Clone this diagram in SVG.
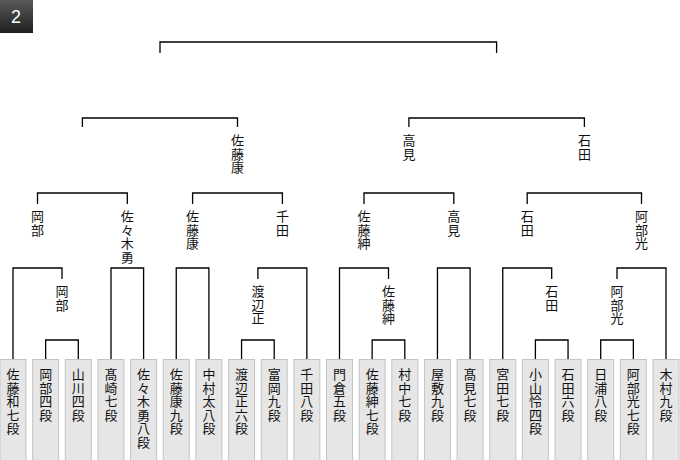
<svg xmlns="http://www.w3.org/2000/svg" width="680" height="460" viewBox="0 0 680 460">
<style>
.b{fill:#e6e6e6;stroke:#c4c4c4;stroke-width:1}
.l{fill:none;stroke:#000;stroke-width:1.3}
text{font-family:"Noto Sans CJK JP","Noto Sans",sans-serif;font-size:13px;fill:#111;text-anchor:middle}
</style>
<defs><linearGradient id="g" x1="0" y1="0" x2="0" y2="1"><stop offset="0" stop-color="#5a5a5a"/><stop offset="1" stop-color="#1e1e1e"/></linearGradient></defs>
<rect width="680" height="460" fill="#fff"/>
<g id="badge"><rect x="0" y="0" width="33" height="33" fill="url(#g)"/><text x="16" y="23" style="fill:#fff;font-family:'Liberation Sans',sans-serif;font-size:18px">2</text></g>
<g id="connectors" class="l">
<path class="l" d="M160,53V42H496.6V53"/>
<path class="l" d="M82.4,127V118H237.5V127M408.9,127V118H584.4V127"/>
<path class="l" d="M37.5,204V193H127.3V204M192.6,204V193H282.4V204M364,204V193H453.8V204M527.2,204V193H641.5V204"/>
<path class="l" d="M13,359V268H62V279M111,359V268H143.6V359M176.25,359V268H208.9V359M257.9,279V268H306.85V359M339.5,359V268H388.5V279M437.45,359V268H470.1V359M502.75,359V268H551.7V279M617,279V268H666V359"/>
<path class="l" d="M45.65,359V340H78.3V359M241.55,359V340H274.2V359M372.15,359V340H404.8V359M535.4,359V340H568.05V359M600.7,359V340H633.35V359"/>
</g>
<g id="winners">
<text y="145"><tspan x="237.5">佐</tspan><tspan x="237.5" dy="13.5">藤</tspan><tspan x="237.5" dy="13.5">康</tspan></text>
<text y="145"><tspan x="408.9">高</tspan><tspan x="408.9" dy="13.5">見</tspan></text>
<text y="145"><tspan x="584.4">石</tspan><tspan x="584.4" dy="13.5">田</tspan></text>
<text y="221"><tspan x="37.5">岡</tspan><tspan x="37.5" dy="13.5">部</tspan></text>
<text y="221"><tspan x="127.3">佐</tspan><tspan x="127.3" dy="13.5">々</tspan><tspan x="127.3" dy="13.5">木</tspan><tspan x="127.3" dy="13.5">勇</tspan></text>
<text y="221"><tspan x="192.6">佐</tspan><tspan x="192.6" dy="13.5">藤</tspan><tspan x="192.6" dy="13.5">康</tspan></text>
<text y="221"><tspan x="282.4">千</tspan><tspan x="282.4" dy="13.5">田</tspan></text>
<text y="221"><tspan x="364">佐</tspan><tspan x="364" dy="13.5">藤</tspan><tspan x="364" dy="13.5">紳</tspan></text>
<text y="221"><tspan x="453.8">高</tspan><tspan x="453.8" dy="13.5">見</tspan></text>
<text y="221"><tspan x="527.2">石</tspan><tspan x="527.2" dy="13.5">田</tspan></text>
<text y="221"><tspan x="641.5">阿</tspan><tspan x="641.5" dy="13.5">部</tspan><tspan x="641.5" dy="13.5">光</tspan></text>
<text y="296"><tspan x="62">岡</tspan><tspan x="62" dy="13.5">部</tspan></text>
<text y="296"><tspan x="257.9">渡</tspan><tspan x="257.9" dy="13.5">辺</tspan><tspan x="257.9" dy="13.5">正</tspan></text>
<text y="296"><tspan x="388.5">佐</tspan><tspan x="388.5" dy="13.5">藤</tspan><tspan x="388.5" dy="13.5">紳</tspan></text>
<text y="296"><tspan x="551.7">石</tspan><tspan x="551.7" dy="13.5">田</tspan></text>
<text y="296"><tspan x="617">阿</tspan><tspan x="617" dy="13.5">部</tspan><tspan x="617" dy="13.5">光</tspan></text>
</g>
<g id="players">
<g id="p0"><rect class="b" x="0" y="359.5" width="26" height="101"/><text y="379"><tspan x="13">佐</tspan><tspan x="13" dy="13.5">藤</tspan><tspan x="13" dy="13.5">和</tspan><tspan x="13" dy="13.5">七</tspan><tspan x="13" dy="13.5">段</tspan></text></g>
<g id="p1"><rect class="b" x="32.65" y="359.5" width="26" height="101"/><text y="379"><tspan x="45.65">岡</tspan><tspan x="45.65" dy="13.5">部</tspan><tspan x="45.65" dy="13.5">四</tspan><tspan x="45.65" dy="13.5">段</tspan></text></g>
<g id="p2"><rect class="b" x="65.3" y="359.5" width="26" height="101"/><text y="379"><tspan x="78.3">山</tspan><tspan x="78.3" dy="13.5">川</tspan><tspan x="78.3" dy="13.5">四</tspan><tspan x="78.3" dy="13.5">段</tspan></text></g>
<g id="p3"><rect class="b" x="97.95" y="359.5" width="26" height="101"/><text y="379"><tspan x="110.95">髙</tspan><tspan x="110.95" dy="13.5">崎</tspan><tspan x="110.95" dy="13.5">七</tspan><tspan x="110.95" dy="13.5">段</tspan></text></g>
<g id="p4"><rect class="b" x="130.6" y="359.5" width="26" height="101"/><text y="379"><tspan x="143.6">佐</tspan><tspan x="143.6" dy="13.5">々</tspan><tspan x="143.6" dy="13.5">木</tspan><tspan x="143.6" dy="13.5">勇</tspan><tspan x="143.6" dy="13.5">八</tspan><tspan x="143.6" dy="13.5">段</tspan></text></g>
<g id="p5"><rect class="b" x="163.25" y="359.5" width="26" height="101"/><text y="379"><tspan x="176.25">佐</tspan><tspan x="176.25" dy="13.5">藤</tspan><tspan x="176.25" dy="13.5">康</tspan><tspan x="176.25" dy="13.5">九</tspan><tspan x="176.25" dy="13.5">段</tspan></text></g>
<g id="p6"><rect class="b" x="195.9" y="359.5" width="26" height="101"/><text y="379"><tspan x="208.9">中</tspan><tspan x="208.9" dy="13.5">村</tspan><tspan x="208.9" dy="13.5">太</tspan><tspan x="208.9" dy="13.5">八</tspan><tspan x="208.9" dy="13.5">段</tspan></text></g>
<g id="p7"><rect class="b" x="228.55" y="359.5" width="26" height="101"/><text y="379"><tspan x="241.55">渡</tspan><tspan x="241.55" dy="13.5">辺</tspan><tspan x="241.55" dy="13.5">正</tspan><tspan x="241.55" dy="13.5">六</tspan><tspan x="241.55" dy="13.5">段</tspan></text></g>
<g id="p8"><rect class="b" x="261.2" y="359.5" width="26" height="101"/><text y="379"><tspan x="274.2">富</tspan><tspan x="274.2" dy="13.5">岡</tspan><tspan x="274.2" dy="13.5">九</tspan><tspan x="274.2" dy="13.5">段</tspan></text></g>
<g id="p9"><rect class="b" x="293.85" y="359.5" width="26" height="101"/><text y="379"><tspan x="306.85">千</tspan><tspan x="306.85" dy="13.5">田</tspan><tspan x="306.85" dy="13.5">八</tspan><tspan x="306.85" dy="13.5">段</tspan></text></g>
<g id="p10"><rect class="b" x="326.5" y="359.5" width="26" height="101"/><text y="379"><tspan x="339.5">門</tspan><tspan x="339.5" dy="13.5">倉</tspan><tspan x="339.5" dy="13.5">五</tspan><tspan x="339.5" dy="13.5">段</tspan></text></g>
<g id="p11"><rect class="b" x="359.15" y="359.5" width="26" height="101"/><text y="379"><tspan x="372.15">佐</tspan><tspan x="372.15" dy="13.5">藤</tspan><tspan x="372.15" dy="13.5">紳</tspan><tspan x="372.15" dy="13.5">七</tspan><tspan x="372.15" dy="13.5">段</tspan></text></g>
<g id="p12"><rect class="b" x="391.8" y="359.5" width="26" height="101"/><text y="379"><tspan x="404.8">村</tspan><tspan x="404.8" dy="13.5">中</tspan><tspan x="404.8" dy="13.5">七</tspan><tspan x="404.8" dy="13.5">段</tspan></text></g>
<g id="p13"><rect class="b" x="424.45" y="359.5" width="26" height="101"/><text y="379"><tspan x="437.45">屋</tspan><tspan x="437.45" dy="13.5">敷</tspan><tspan x="437.45" dy="13.5">九</tspan><tspan x="437.45" dy="13.5">段</tspan></text></g>
<g id="p14"><rect class="b" x="457.1" y="359.5" width="26" height="101"/><text y="379"><tspan x="470.1">髙</tspan><tspan x="470.1" dy="13.5">見</tspan><tspan x="470.1" dy="13.5">七</tspan><tspan x="470.1" dy="13.5">段</tspan></text></g>
<g id="p15"><rect class="b" x="489.75" y="359.5" width="26" height="101"/><text y="379"><tspan x="502.75">宮</tspan><tspan x="502.75" dy="13.5">田</tspan><tspan x="502.75" dy="13.5">七</tspan><tspan x="502.75" dy="13.5">段</tspan></text></g>
<g id="p16"><rect class="b" x="522.4" y="359.5" width="26" height="101"/><text y="379"><tspan x="535.4">小</tspan><tspan x="535.4" dy="13.5">山</tspan><tspan x="535.4" dy="13.5">怜</tspan><tspan x="535.4" dy="13.5">四</tspan><tspan x="535.4" dy="13.5">段</tspan></text></g>
<g id="p17"><rect class="b" x="555.05" y="359.5" width="26" height="101"/><text y="379"><tspan x="568.05">石</tspan><tspan x="568.05" dy="13.5">田</tspan><tspan x="568.05" dy="13.5">六</tspan><tspan x="568.05" dy="13.5">段</tspan></text></g>
<g id="p18"><rect class="b" x="587.7" y="359.5" width="26" height="101"/><text y="379"><tspan x="600.7">日</tspan><tspan x="600.7" dy="13.5">浦</tspan><tspan x="600.7" dy="13.5">八</tspan><tspan x="600.7" dy="13.5">段</tspan></text></g>
<g id="p19"><rect class="b" x="620.35" y="359.5" width="26" height="101"/><text y="379"><tspan x="633.35">阿</tspan><tspan x="633.35" dy="13.5">部</tspan><tspan x="633.35" dy="13.5">光</tspan><tspan x="633.35" dy="13.5">七</tspan><tspan x="633.35" dy="13.5">段</tspan></text></g>
<g id="p20"><rect class="b" x="653" y="359.5" width="26" height="101"/><text y="379"><tspan x="666">木</tspan><tspan x="666" dy="13.5">村</tspan><tspan x="666" dy="13.5">九</tspan><tspan x="666" dy="13.5">段</tspan></text></g>
</g>
</svg>
